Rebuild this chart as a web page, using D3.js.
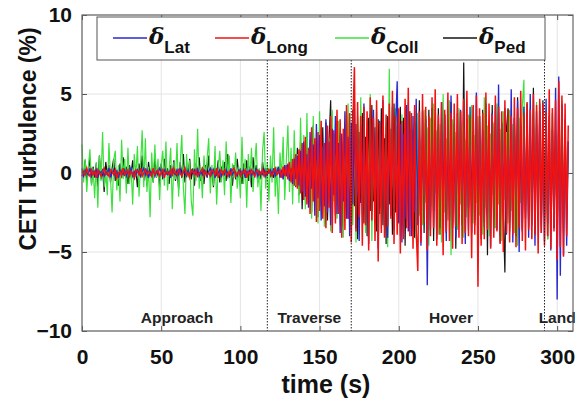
<!DOCTYPE html>
<html>
<head>
<meta charset="utf-8">
<script src="https://cdn.jsdelivr.net/npm/d3@7"></script>
<style>
  body { margin: 0; background: #fff; }
  text { font-family: "Liberation Sans", Arial, sans-serif; }
</style>
</head>
<body>
<div id="chart"></div>
<script>
// sample times (s), one sample per second
const sampleTime = d3.range(0, 308);

const coll = [
  1.8, -0.6, 0.9, -1.2, 0.4, 1.5, -0.8, 0.3, -1.6, 0.7,
  -2.2, 1.1, -0.5, 2.6, -0.9, 0.2, -1.4, 1.9, -0.3, -2.5,
  0.8, 1.4, -1.1, 0.5, -1.8, 2.1, -0.4, 0.9, -1.3, 1.6,
  -0.7, 0.3, -2.0, 1.2, -0.2, 1.7, -1.5, 0.6, 2.7, -0.9,
  2.2, -1.2, 0.4, -2.8, 1.3, -0.6, 1.8, -0.3, 0.9, -1.7,
  0.5, 1.4, -0.8, 2.0, -1.1, 0.2, 1.6, -2.3, 0.7, -0.4,
  1.9, -1.5, 0.6, 2.4, -0.9, -2.6, 1.2, -0.3, 0.8, -1.8,
  -2.7, 1.5, -0.5, 2.8, -1.0, 0.4, -1.6, 1.1, -0.2, 0.9,
  2.2, -1.3, 0.5, -0.8, 1.7, -2.0, 0.3, 1.4, -0.6, 0.8,
  -1.4, 2.0, -0.4, 1.1, -1.9, 0.6, -0.3, 1.3, -1.0, 0.4,
  -1.6, 2.3, -0.7, 0.9, -2.2, 1.2, -0.5, 1.6, -1.2, 0.5,
  1.9, -0.9, 0.3, -2.4, 1.4, 2.6, -1.0, 0.7, -1.8, 1.1,
  -0.6, 2.9, -1.5, 0.4, -2.6, 1.3, -0.2, 2.3, -1.7, 0.8,
  3.0, -1.2, 1.6, -2.0, 2.7, -0.8, 1.2, -1.9, 3.5, -1.1,
  2.4, -2.3, 3.8, -1.4, 2.1, -2.9, 3.6, -1.6, 1.0, -3.2,
  3.9, -2.1, 1.5, -3.4, 2.8, -1.0, 2.2, -3.7, 4.0, -1.8,
  2.6, -2.9, 3.3, -0.9, 2.0, -4.1, 3.1, -1.5, 4.4, -2.4,
  1.7, -3.3, 2.9, -4.4, 3.6, -1.2, 4.8, -2.6, 1.9, -3.8,
  3.4, -1.7, 5.0, -4.3, 2.2, -2.9, 3.9, -1.4, 2.6, -3.5,
  4.2, -2.0, 3.0, -4.7, 6.6, -1.9, 2.8, -3.6, 4.1, -2.3,
  1.6, -4.0, 3.7, -1.5, 2.4, -3.1, 4.5, -2.2, 3.3, -1.6,
  2.0, -4.2, 3.8, -2.7, 1.5, -3.3, 4.0, -1.9, 2.9, -4.6,
  3.5, -2.1, 4.4, -1.3, 2.7, -3.9, 3.1, -4.4, 5.0, -2.5,
  2.2, -3.0, 4.6, -5.2, 3.4, -1.8, 2.6, -3.6, 4.1, -2.0,
  3.0, -4.1, 2.1, -2.8, 3.7, -1.6, 4.3, -3.2, 2.4, -1.9,
  3.6, -2.7, 1.8, -3.9, 4.8, -2.2, 3.0, -4.0, 2.5, -1.4,
  3.2, -3.5, 4.4, -2.0, 2.8, -4.3, 3.9, -1.7, 2.6, -3.2,
  4.0, -2.4, 3.1, -3.8, 2.3, -4.6, 3.5, -1.9, 4.2, 5.9,
  -2.8, 3.6, -1.5, 2.7, -4.1, 3.3, -2.2, 4.5, -3.0, 2.1,
  -3.6, 3.8, -1.8, 2.9, -4.2, 3.4, -2.6, 4.1, -3.3, 2.4,
  -4.5, 3.7, -2.1, 4.6, -3.8, 2.8, -2.4, 1.9
];

const ped = [
  0.3, -0.2, 0.8, -0.5, 0.1, 1.0, -0.7, 0.4, -0.3, 0.6,
  -0.9, 1.1, -0.4, 0.2, -1.2, 0.7, -0.1, 0.5, -0.6, 0.3,
  0.9, -0.5, 0.2, -0.8, 0.6, -0.3, 1.0, -0.2, 0.4, -0.7,
  0.5, -0.1, 0.8, -0.4, 0.2, -0.9, 0.6, -0.3, 1.1, -0.5,
  0.3, -0.8, 0.7, -0.2, 0.4, -0.6, 1.0, -0.3, 0.2, -0.9,
  0.6, -0.4, 0.9, -0.1, 0.3, -0.7, 0.5, -0.2, 0.8, -0.5,
  0.2, -1.0, 0.7, -0.3, 1.2, -0.6, 0.4, -0.2, 0.9, -0.4,
  0.3, -0.8, 0.6, -0.1, 1.0, -0.5, 0.2, -0.7, 0.5, -0.3,
  1.1, -0.4, 0.3, -0.9, 0.6, -0.2, 0.8, -0.6, 0.4, -0.1,
  0.7, -0.5, 1.2, -0.3, 0.2, -0.8, 0.5, -0.4, 0.9, -0.2,
  0.3, -0.7, 0.6, -0.1, 0.8, -0.5, 0.4, -0.9, 1.0, -0.3,
  0.5, -0.6, 0.2, -0.4, 0.7, -0.2, 0.3, -0.1, 0.2, -0.2,
  0.1, -0.3, 0.2, -0.1, 0.3, -0.2, 0.1, -0.3, 0.4, -0.2,
  0.5, -0.4, 0.8, -0.6, 1.2, -0.9, 1.6, -1.4, 2.0, -2.3,
  1.8, -1.1, 2.6, -1.9, 1.4, -2.5, 3.0, -1.2, 2.2, -2.8,
  1.5, -2.0, 2.9, -1.6, 3.2, -3.0, 2.1, 4.6, -1.8, 2.5,
  -2.7, 3.3, -1.4, 2.4, -3.4, 1.9, -2.2, 3.7, -2.9, 2.2,
  -3.6, 4.0, -2.1, 3.1, -4.2, 2.6, -1.9, 3.8, -3.2, 2.3,
  -4.0, 3.5, -2.4, 4.3, -1.8, 2.9, -3.7, 3.4, -2.6, 4.1,
  -3.3, 2.2, -4.5, 3.6, -2.0, 2.8, -3.9, 4.4, -2.5, 3.0,
  -3.1, 4.2, -2.3, 3.5, -4.6, 2.5, -1.7, 3.9, -3.4, 2.7,
  -4.1, 3.2, -2.2, 4.6, -3.0, 2.4, -3.8, 3.6, -2.6, 4.0,
  -2.9, 3.4, -4.3, 2.8, -1.9, 4.1, -3.5, 2.6, -2.4, 3.7,
  -3.8, 2.9, -2.0, 4.5, -3.2, 3.1, -4.8, 2.3, -2.7, 3.9,
  -3.0, 7.0, -2.5, 3.4, -3.6, 2.7, -2.1, 4.2, -3.3, 2.5,
  -3.9, 3.6, -2.4, 4.0, -3.1, 2.6, -5.2, 3.3, -2.8, 4.3,
  -3.5, 2.9, -2.2, 3.8, -4.4, 3.1, -2.6, -6.3, 2.8, 4.1,
  -3.7, 2.4, -2.9, 3.5, -4.0, 4.8, -2.3, 3.2, -3.6, 2.7,
  -2.5, 4.4, -3.4, 2.9, -2.0, 5.4, -3.8, 3.0, -2.7, 3.9,
  -3.3, 4.6, -2.8, 3.3, -4.2, 2.5, -2.9, 3.8, -3.5, 2.6,
  -4.1, 3.5, -2.4, 4.4, -3.7, 2.9, -2.6, 2.0
];

const lat = [
  0.1, -0.2, 0.2, 0.0, -0.1, 0.3, -0.2, 0.1, -0.1, 0.2,
  -0.3, 0.1, 0.0, 0.2, -0.2, 0.1, -0.1, 0.3, -0.2, 0.0,
  0.2, -0.1, 0.1, -0.3, 0.2, 0.0, -0.1, 0.2, -0.2, 0.1,
  0.0, 0.3, -0.2, 0.1, -0.1, 0.2, 0.0, -0.2, 0.1, 0.3,
  -0.1, 0.2, -0.3, 0.1, 0.0, 0.2, -0.2, 0.1, -0.1, 0.3,
  0.1, -0.2, 0.2, 0.0, -0.1, 0.1, -0.3, 0.2, 0.0, -0.1,
  0.2, -0.1, 0.3, -0.2, 0.1, 0.0, -0.2, 0.2, -0.1, 0.1,
  0.0, 0.2, -0.1, 0.3, -0.2, 0.1, -0.1, 0.2, 0.0, -0.2,
  0.1, 0.3, -0.1, 0.2, -0.3, 0.1, 0.0, 0.2, -0.2, 0.1,
  -0.1, 0.2, 0.0, -0.2, 0.3, -0.1, 0.1, 0.0, -0.2, 0.2,
  0.1, -0.1, 0.2, -0.3, 0.1, 0.0, 0.2, -0.2, 0.1, -0.1,
  0.3, -0.2, 0.1, 0.0, -0.1, 0.2, -0.2, 0.1, 0.0, 0.2,
  -0.1, 0.3, -0.2, 0.1, 0.4, -0.3, 0.2, -0.4, 0.5, -0.2,
  0.6, -0.5, 0.3, -0.7, 0.9, -0.4, 1.1, -0.8, 1.4, -1.2,
  2.0, -1.5, 1.2, -2.2, 2.6, -1.0, 1.8, -2.7, 3.1, -1.6,
  2.4, -3.0, 1.7, -2.1, 3.4, -2.5, 2.0, -3.3, 2.8, -1.4,
  3.6, -2.6, 1.9, -3.8, 2.5, -1.8, 3.9, -2.9, 2.3, -4.0,
  3.2, -2.0, 4.1, -3.5, 2.7, -4.3, 3.0, -1.6, 4.4, -3.1,
  2.1, -4.5, 3.7, -2.4, 4.0, -3.0, 2.6, -4.8, 3.3, -2.2,
  4.6, -3.4, 2.4, -4.1, 3.5, -2.7, 4.2, -3.6, 2.9, 5.8,
  -3.2, 3.1, -4.4, 2.5, -2.9, 4.3, -3.7, 2.8, -4.0, 3.6,
  -2.5, 4.7, -3.3, 2.2, -4.6, 3.9, -2.8, 3.4, -7.1, 2.7,
  -3.6, 4.1, -2.4, 3.3, -4.2, 2.9, -3.1, 4.5, -2.6, 3.7,
  -4.3, 2.6, -3.0, 4.9, -3.5, 2.3, -4.1, 3.8, -2.7, 4.0,
  -3.3, 2.9, -4.5, 3.4, -2.2, 4.2, -3.8, 2.6, -3.0, 5.1,
  -2.9, 3.6, -4.2, 2.7, -3.4, 4.4, -2.5, 3.1, -4.7, 3.8,
  -2.8, 4.3, -3.6, 5.6, -4.0, 3.2, -2.6, 4.1, -3.9, 2.8,
  -3.1, 5.3, -4.4, 3.5, -2.7, 4.6, -5.0, 3.0, -3.7, 4.2,
  -2.9, 3.7, -4.1, 5.0, -3.3, 2.9, -4.6, 3.9, -3.0, 4.4,
  -3.8, 3.1, -4.3, 4.7, -3.2, 3.6, -4.9, 2.8, -3.5, 5.4,
  -8.0, 6.1, -6.5, 4.3, -5.2, 3.4, -4.6, 2.0
];

const lon = [
  -0.2, 0.1, -0.1, 0.3, 0.0, -0.2, 0.2, -0.1, 0.1, -0.3,
  0.2, 0.0, -0.2, 0.1, 0.3, -0.1, 0.0, -0.2, 0.2, 0.1,
  -0.1, 0.2, -0.3, 0.0, 0.1, -0.2, 0.3, -0.1, 0.0, 0.2,
  -0.2, 0.1, 0.0, -0.3, 0.2, 0.1, -0.1, 0.3, -0.2, 0.0,
  0.2, -0.1, 0.1, 0.0, -0.2, 0.3, -0.1, 0.0, 0.2, -0.2,
  0.0, 0.2, -0.3, 0.1, 0.0, -0.1, 0.2, -0.2, 0.3, 0.0,
  -0.1, 0.2, 0.0, -0.2, 0.1, 0.3, -0.1, 0.0, -0.3, 0.2,
  0.1, -0.1, 0.2, -0.2, 0.0, 0.1, 0.3, -0.2, 0.1, -0.1,
  0.0, -0.2, 0.2, 0.1, -0.1, 0.3, -0.3, 0.0, 0.2, -0.1,
  0.2, 0.0, -0.2, 0.1, -0.1, 0.2, 0.3, -0.2, 0.0, 0.1,
  -0.2, 0.1, 0.0, 0.2, -0.3, 0.1, -0.1, 0.2, 0.0, -0.2,
  0.1, 0.2, -0.1, 0.0, 0.2, -0.2, 0.1, -0.1, 0.2, 0.0,
  -0.2, 0.1, 0.3, -0.1, 0.0, 0.2, -0.3, 0.4, -0.2, 0.5,
  -0.4, 0.7, -0.6, 0.9, -0.8, 1.2, -1.0, 1.5, -1.3, 1.9,
  -1.7, 2.3, -2.0, 1.6, -2.6, 2.9, -1.8, 2.2, -3.1, 2.6,
  -2.4, 3.3, -2.9, 1.9, -3.5, 3.0, -2.2, 3.6, -3.8, 2.7,
  -3.2, 4.0, -2.6, 3.4, -4.1, 2.8, -3.6, 4.3, -2.9, 3.8,
  -4.4, 3.1, 6.7, -3.7, 4.5, -2.8, 3.6, -4.6, 4.2, -3.3,
  3.9, -4.9, 4.8, -3.0, 3.5, -4.3, 4.6, -5.6, 3.2, -3.8,
  4.9, -4.1, 3.7, -3.4, 4.4, -2.9, 5.2, -4.5, 3.6, -3.9,
  4.1, -5.1, 3.3, -4.2, 4.7, -3.5, 5.4, -4.0, 3.8, -4.8,
  4.3, -3.6, -6.2, 3.9, -4.4, 5.0, -3.2, 4.2, -4.9, 3.6,
  -4.0, 4.8, -3.5, 5.3, -4.6, 3.7, -3.9, 4.5, -5.2, 4.0,
  -3.7, 5.1, -4.3, 3.8, -4.8, 4.4, -3.4, 5.0, -4.1, 3.9,
  -4.5, 4.7, -3.8, 5.2, -4.0, 3.6, -5.4, 4.3, -3.9, 4.9,
  -7.2, 4.1, -4.6, 3.8, -4.2, 5.1, -3.6, 4.4, -4.8, 3.7,
  -4.1, 4.9, -3.7, 4.2, -4.5, 3.9, -5.0, 4.6, -3.8, 4.0,
  -4.4, 3.6, -3.9, 4.8, -4.7, 4.1, -3.5, 5.2, -4.3, 3.8,
  -4.9, 4.5, -3.6, 4.0, -4.2, 5.0, -3.9, 4.3, -5.1, 4.7,
  -3.8, 4.4, -4.6, 3.9, -4.0, 5.3, -4.8, 4.1, -3.7, 4.6,
  -5.5, 5.8, -4.7, 4.9, -5.3, 4.4, -4.0, 3.0
];

// flight phases: boundary times and label positions
const phaseBounds = [117, 170, 292];
const phaseNames = ['Approach', 'Traverse', 'Hover', 'Land'];
const phaseLabelX = [60, 143.5, 233, 300];

const xTicks = [0, 50, 100, 150, 200, 250, 300];
const yTicks = [-10, -5, 0, 5, 10];

const seriesNames = ['Lat', 'Long', 'Coll', 'Ped'];
const seriesColors = ['#2828d0', '#f21010', '#3ee03e', '#151515'];

const margin = { top: 15, right: 10, bottom: 74, left: 82 };
const width = 583 - margin.left - margin.right;
const height = 405 - margin.top - margin.bottom;

const svg = d3.select('#chart')
    .append('svg')
    .attr('width', 583)
    .attr('height', 405)
    .append('g')
    .attr('transform', `translate(${margin.left}, ${margin.top})`);

const xScale = d3.scaleLinear().domain([0, 310]).range([0, width]);
const yScale = d3.scaleLinear().domain([-10, 10]).range([height, 0]);

// grid
svg.append('g')
    .selectAll('line')
    .data(xTicks)
    .enter()
    .append('line')
    .attr('x1', d => xScale(d)).attr('x2', d => xScale(d))
    .attr('y1', 0).attr('y2', height)
    .attr('stroke', '#e4e4e4');
svg.append('g')
    .selectAll('line')
    .data(yTicks)
    .enter()
    .append('line')
    .attr('x1', 0).attr('x2', width)
    .attr('y1', d => yScale(d)).attr('y2', d => yScale(d))
    .attr('stroke', '#e4e4e4');

// series lines
const line = d3.line()
    .x((d, i) => xScale(sampleTime[i]))
    .y(d => yScale(d));

// [values, colour index, stroke width]
const drawOrder = [[ped, 3, 1.2], [coll, 2, 1.2], [lat, 0, 1.35], [lon, 1, 1.5]];
drawOrder.forEach(([vals, k, w]) => {
    svg.append('path')
        .datum(vals)
        .attr('fill', 'none')
        .attr('stroke', seriesColors[k])
        .attr('stroke-width', w)
        .attr('d', line);
});

// phase boundaries
svg.selectAll('.phase')
    .data(phaseBounds)
    .enter()
    .append('line')
    .attr('class', 'phase')
    .attr('x1', d => xScale(d)).attr('x2', d => xScale(d))
    .attr('y1', 0).attr('y2', height)
    .attr('stroke', '#222')
    .attr('stroke-width', 1)
    .attr('stroke-dasharray', '1.5 1.5');

svg.selectAll('.phaseLabel')
    .data(phaseNames)
    .enter()
    .append('text')
    .attr('class', 'phaseLabel')
    .attr('x', (d, i) => xScale(phaseLabelX[i]))
    .attr('y', height - 8)
    .attr('text-anchor', 'middle')
    .style('font-size', '15.5px')
    .style('font-weight', 'bold')
    .style('fill', '#222')
    .text(d => d);

// axes with inward ticks, MATLAB-like box
const axisStyle = g => {
    g.select('.domain').remove();
    g.selectAll('line').attr('stroke', '#555');
    g.selectAll('text')
        .style('font-size', '21px')
        .style('font-weight', 'bold')
        .style('fill', '#111');
};

svg.append('g')
    .attr('transform', `translate(0, ${height})`)
    .call(d3.axisBottom(xScale).tickValues(xTicks).tickSize(-5).tickPadding(18))
    .call(axisStyle);
svg.append('g')
    .call(d3.axisTop(xScale).tickValues(xTicks).tickSize(-5).tickFormat(''))
    .call(axisStyle);
svg.append('g')
    .call(d3.axisLeft(yScale).tickValues(yTicks).tickSize(-5).tickPadding(10))
    .call(axisStyle);
svg.append('g')
    .attr('transform', `translate(${width}, 0)`)
    .call(d3.axisRight(yScale).tickValues(yTicks).tickSize(-5).tickFormat(''))
    .call(axisStyle);

svg.append('rect')
    .attr('width', width)
    .attr('height', height)
    .attr('fill', 'none')
    .attr('stroke', '#666')
    .attr('stroke-width', 1.2);

// legend
const legend = svg.append('g').attr('transform', 'translate(15, 2)');
legend.append('rect')
    .attr('width', 448)
    .attr('height', 43)
    .attr('fill', '#fff')
    .attr('stroke', '#555')
    .attr('stroke-width', 1);

const legendX = [16, 118, 238, 346];
const item = legend.selectAll('.item')
    .data(seriesNames)
    .enter()
    .append('g')
    .attr('transform', (d, i) => `translate(${legendX[i]}, 0)`);
item.append('line')
    .attr('x1', 0).attr('x2', 34)
    .attr('y1', 21).attr('y2', 21)
    .attr('stroke', (d, i) => seriesColors[i])
    .attr('stroke-width', 1.5);
const lt = item.append('text')
    .attr('x', 36)
    .attr('y', 27)
    .style('fill', '#111');
lt.append('tspan')
    .style('font-size', '23px')
    .style('font-style', 'italic')
    .style('font-weight', 'bold')
    .style('font-family', '"DejaVu Serif", serif')
    .text('δ');
lt.append('tspan')
    .attr('dy', 9)
    .style('font-size', '17px')
    .style('font-weight', 'bold')
    .text(d => d);

// axis titles
svg.append('text')
    .attr('x', xScale(154))
    .attr('y', height + 62)
    .attr('text-anchor', 'middle')
    .style('font-size', '25px')
    .style('font-weight', 'bold')
    .style('fill', '#111')
    .text('time (s)');

svg.append('text')
    .attr('transform', `translate(${-46}, ${124}) rotate(-90)`)
    .attr('text-anchor', 'middle')
    .style('font-size', '23px')
    .style('font-weight', 'bold')
    .style('fill', '#111')
    .text('CETI Turbulence (%)');
</script>
</body>
</html>
